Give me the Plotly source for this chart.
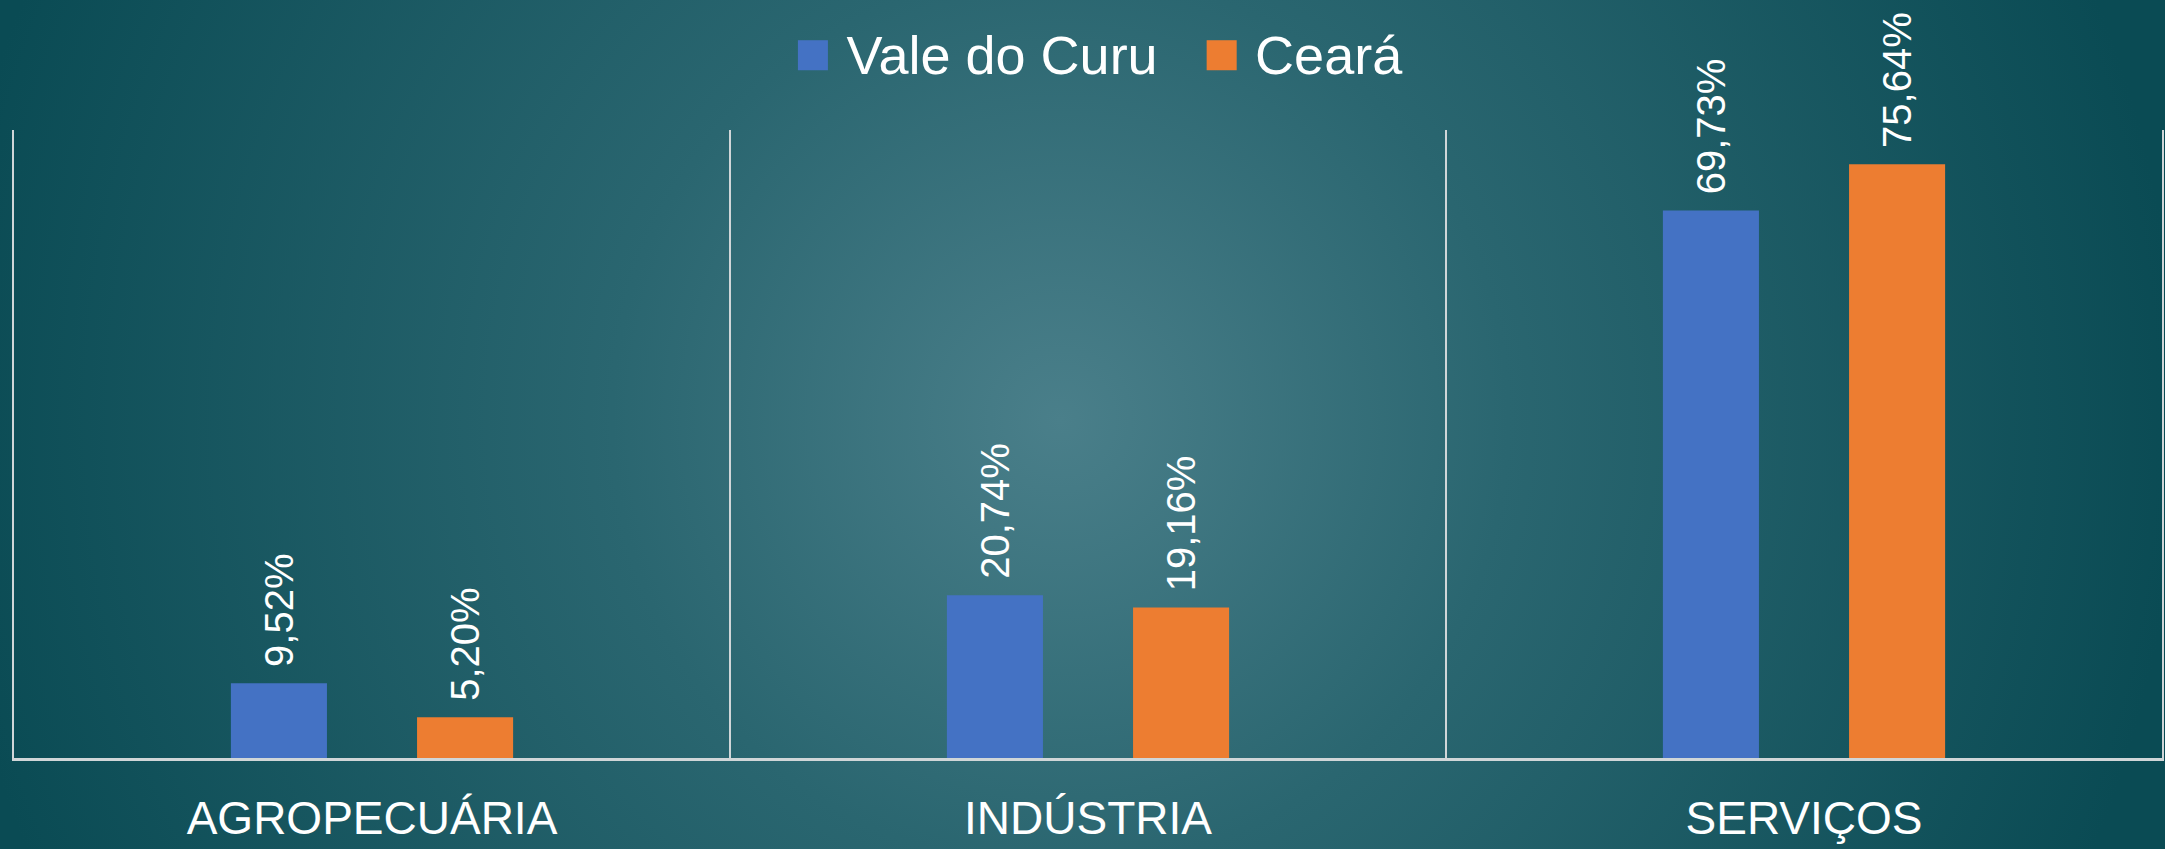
import plotly.graph_objects as go

# dados
setores = ["AGROPECUÁRIA", "INDÚSTRIA", "SERVIÇOS"]
vale_do_curu = [9.52, 20.74, 69.73]
ceara = [5.20, 19.16, 75.64]
series_nomes = ["Vale do Curu", "Ceará"]
cores = ["#4472C4", "#ED7D31"]

W, H = 2165, 849
M_L, M_R, M_T, M_B = 14, 3, 130, 91

# fundo com gradiente radial (svg embutido)
bg_svg = (
    "data:image/svg+xml;utf8,"
    "<svg xmlns='http://www.w3.org/2000/svg' width='2165' height='849' viewBox='0 0 2165 849' preserveAspectRatio='none'>"
    "<defs><radialGradient id='g' gradientUnits='userSpaceOnUse' cx='1060' cy='420' r='1120'>"
    "<stop offset='0' stop-color='%234a7f8a'/>"
    "<stop offset='0.4' stop-color='%232a6670'/>"
    "<stop offset='1' stop-color='%230a4b54'/>"
    "</radialGradient></defs>"
    "<rect width='2165' height='849' fill='url(%23g)'/></svg>"
)

fig = go.Figure()

for nome, valores, cor in zip(series_nomes, [vale_do_curu, ceara], cores):
    fig.add_trace(go.Bar(
        x=setores,
        y=valores,
        name=nome,
        marker=dict(color=cor, line=dict(width=0)),
        texttemplate="&#8196;%{y:.2f}%",
        textposition="outside",
        textangle=-90,
        constraintext="none",
        cliponaxis=False,
        textfont=dict(family="Liberation Sans", size=40, color="white"),
        showlegend=False,
    ))

pw = W - M_L - M_R
ph = H - M_T - M_B

# legenda como texto
legenda = "&nbsp;&nbsp;&nbsp;".join(
    f"<span style='color:{c};font-size:62px'>■</span>&nbsp;{n}"
    for n, c in zip(series_nomes, cores)
)
fig.add_annotation(
    text=legenda, xref="paper", yref="paper",
    x=0.5 + 10 / pw, y=1 + (M_T - 53) / ph,
    xanchor="center", yanchor="middle", showarrow=False,
    font=dict(family="Liberation Sans", size=54, color="white"),
)

fig.add_layout_image(
    source=bg_svg, xref="paper", yref="paper",
    x=-M_L / pw, y=1 + M_T / ph, sizex=W / pw, sizey=H / ph,
    sizing="stretch", xanchor="left", yanchor="top", layer="below",
)

fig.update_xaxes(
    tickson="boundaries", showgrid=True, gridcolor="#d0d6d8", gridwidth=1.5,
    showline=True, linecolor="#d0d6d8", linewidth=2.5,
    ticks="", ticklabelstandoff=18, automargin=False,
    tickfont=dict(family="Liberation Sans", size=46, color="white"),
)
fig.update_yaxes(
    range=[0, 80], showgrid=False, zeroline=False, showticklabels=False,
    showline=True, mirror=True, linecolor="#d0d6d8", linewidth=1.5,
    automargin=False,
)

fig.update_layout(
    width=W, height=H,
    margin=dict(l=M_L, r=M_R, t=M_T, b=M_B, autoexpand=False),
    barmode="group", bargap=0.48, bargroupgap=0.484,
    separators=",.",
    paper_bgcolor="#0b4b54", plot_bgcolor="rgba(0,0,0,0)",
)

fig.write_html(
    "out.html",
    config={"displayModeBar": False},
    post_script="document.body.style.margin='0';document.body.style.overflow='hidden';",
)
